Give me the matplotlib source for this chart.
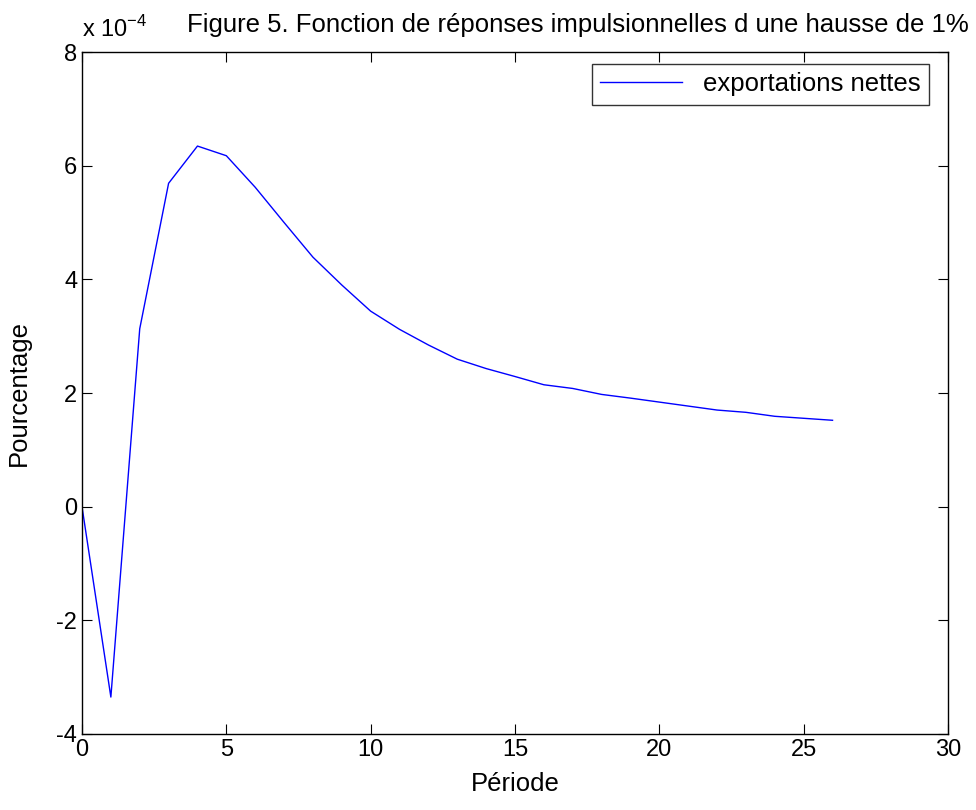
import matplotlib
matplotlib.use("Agg")
import matplotlib.pyplot as plt
import numpy as np

plt.rcParams['font.family'] = ['Liberation Sans', 'DejaVu Sans']

periods = list(range(27))
values = [0, -3.35, 3.13, 5.69, 6.345, 6.175, 5.62, 5.0, 4.39, 3.9, 3.44, 3.12,
          2.845, 2.595, 2.43, 2.29, 2.145, 2.08, 1.975, 1.91, 1.84, 1.77, 1.70,
          1.66, 1.59, 1.555, 1.52]
values = [v * 1e-4 for v in values]
series_label = "exportations nettes"
title = "Figure 5. Fonction de réponses impulsionnelles d une hausse de 1%"
xticks = [0, 5, 10, 15, 20, 25, 30]
yticks = [-4, -2, 0, 2, 4, 6, 8]

fig = plt.figure(figsize=(9.76, 8.10), dpi=100)
ax = fig.add_axes([82/976, 1 - 734/810, (948-82)/976, (734-52)/810])

ax.plot(periods, values, color='#0000ff', lw=1.0, label=series_label)
ax.set_xlim(0, 30)
ax.set_ylim(-4e-4, 8e-4)
ax.set_xticks(xticks)
ax.set_xticklabels([str(t) for t in xticks])
ax.set_yticks([t * 1e-4 for t in yticks])
ax.set_yticklabels([str(t) for t in yticks])
fs_tick = 17
fs_lab = 18.5
ax.tick_params(direction='in', top=True, right=True, labelsize=fs_tick, length=7, width=0.8)
for s in ax.spines.values():
    s.set_linewidth(1.0)

ax.set_xlabel("Période", fontsize=fs_lab, labelpad=8)
ax.set_ylabel("Pourcentage", fontsize=fs_lab, labelpad=18)

fig.text(187/976, 1 - 32/810, title, fontsize=fs_lab, ha='left', va='baseline')
fig.text(82/976, 1 - 37/810, "x 10$^{\\mathregular{-4}}$", fontsize=fs_tick, ha='left', va='baseline')

leg = ax.legend(loc='upper right', fontsize=fs_lab, frameon=True, fancybox=False,
                edgecolor='black', handlelength=3.2, borderaxespad=0.0,
                borderpad=0.33, bbox_to_anchor=(929/976, 1 - 64/810),
                bbox_transform=fig.transFigure)
leg.get_frame().set_linewidth(1.0)

fig.savefig("out.png", dpi=100)
